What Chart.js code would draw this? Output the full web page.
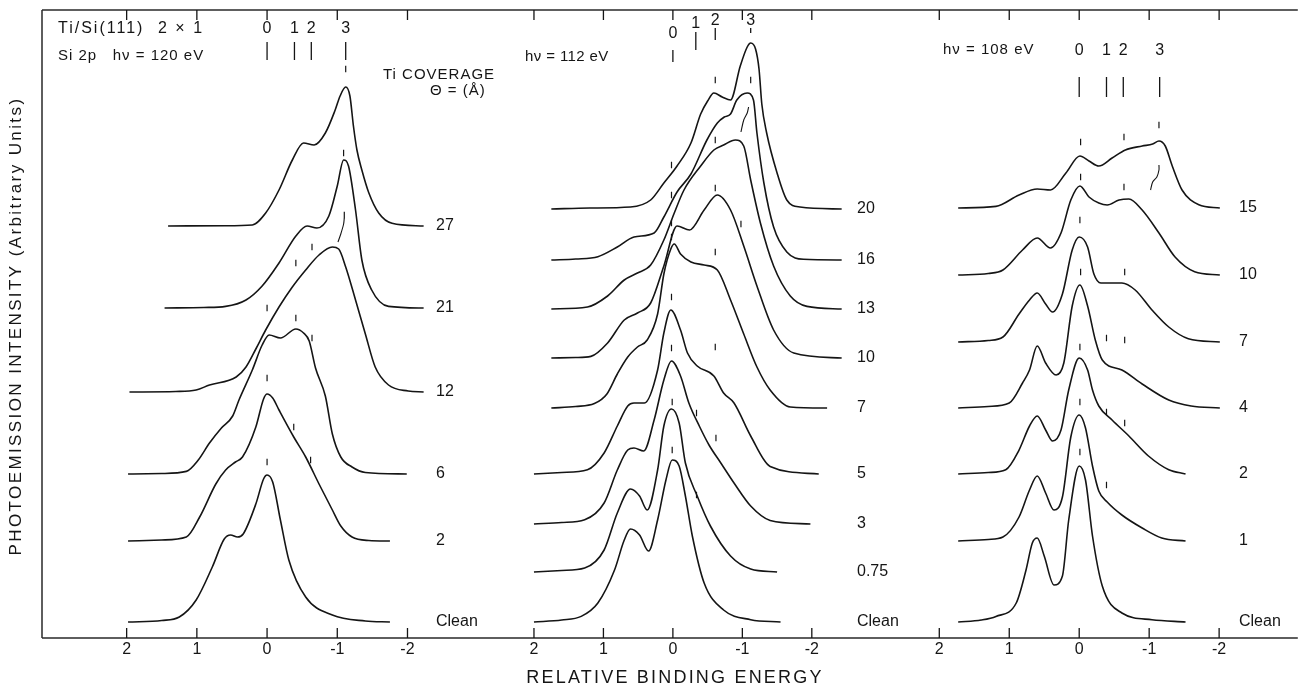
<!DOCTYPE html>
<html><head><meta charset="utf-8">
<script src="https://cdn.jsdelivr.net/npm/chart.js@4.4.1/dist/chart.umd.min.js"></script>
<style>html,body{margin:0;padding:0;background:#fff;overflow:hidden}</style>
</head><body>
<canvas id="c" width="1303" height="690"></canvas>
<script>
// ---------------- DATA ----------------
const tickValues = [2, 1, 0, -1, -2];
const tickLabels = ['2', '1', '0', '-1', '-2'];

// Panel 1 : Si 2p, hν = 120 eV  — points are [relative binding energy (eV), intensity above baseline]
const p1Labels  = ['Clean', '2', '6', '12', '21', '27'];
const p1Offsets = [16, 97, 164, 246, 330, 412];
const p1Clean = [[1.98,0],[1.5,1.5],[1.25,5],[1.01,22],[0.78,55],[0.61,83],[0.52,87],[0.42,85],[0.34,88],[0.16,118],[0.05,143],[0,147],[-0.08,140],[-0.19,102],[-0.31,62],[-0.55,25],[-0.93,7],[-1.4,1],[-1.75,0]];
const p1Cov2  = [[1.98,0],[1.5,1],[1.15,4],[0.96,24],[0.73,57],[0.59,71],[0.45,79],[0.35,84],[0.16,114],[0.05,142],[0,147],[-0.08,143],[-0.17,131],[-0.38,104],[-0.55,84],[-0.74,57],[-0.93,31],[-1.05,15],[-1.21,4],[-1.45,0.5],[-1.75,0]];
const p1Cov6  = [[1.98,0],[1.5,0.5],[1.15,2.6],[0.98,14],[0.82,31],[0.65,46],[0.49,58],[0.40,74],[0.21,104],[0.07,129],[-0.03,139],[-0.19,136],[-0.41,145],[-0.52,141],[-0.60,133],[-0.69,106],[-0.83,78],[-0.93,40],[-1.05,17],[-1.21,7],[-1.4,1.5],[-1.99,0]];
const p1Cov12 = [[1.96,0],[1.3,0.5],[1.01,2],[0.82,7],[0.44,15],[0.30,25],[0.16,43],[0.02,62],[-0.17,85],[-0.36,105],[-0.55,122],[-0.74,137],[-0.93,145],[-1.02,143],[-1.12,125],[-1.26,92],[-1.40,58],[-1.54,25],[-1.73,7],[-2.01,1],[-2.23,0]];
const p1Cov21 = [[1.46,0],[0.9,0.5],[0.59,1.6],[0.30,8],[0.07,22],[-0.17,45],[-0.41,72],[-0.57,82],[-0.71,80],[-0.88,92],[-1.00,122],[-1.09,148],[-1.16,142],[-1.26,98],[-1.35,48],[-1.49,18],[-1.73,1.6],[-2.23,0]];
const p1Cov27 = [[1.41,0],[0.6,0.3],[0.21,1],[0.02,13],[-0.17,36],[-0.36,66],[-0.52,83],[-0.67,81],[-0.83,93],[-0.97,116],[-1.04,130],[-1.12,139],[-1.18,130],[-1.23,100],[-1.28,76],[-1.35,56],[-1.45,33],[-1.59,13],[-1.78,2.7],[-2.23,0]];
const p1Curves = [p1Clean, p1Cov2, p1Cov6, p1Cov12, p1Cov21, p1Cov27];
const p1Components = [0, -0.39, -0.63, -1.12];
const p1CompNames  = ['0', '1', '2', '3'];
const p1Marks = [[0,176],[-0.38,211],[-0.62,178],[0,260],[0,330],[-0.41,320],[-0.64,300],[-0.41,375],[-0.64,391],[-1.09,485],[-1.10,423],[-1.12,569]];
const p1Link  = [[-1.01,396],[-1.05,404],[-1.09,414],[-1.10,420]];

// Panel 2 : hν = 112 eV
const p2Labels  = ['Clean', '0.75', '3', '5', '7', '10', '13', '16', '20'];
const p2Offsets = [16, 66, 114, 164, 230, 280, 329, 378, 429];
const p2Clean = [[2.0,0],[1.6,2],[1.32,5.6],[1.08,19],[0.84,52],[0.70,82],[0.61,93],[0.48,87],[0.35,71],[0.22,102],[0.10,142],[0.01,162],[-0.09,156],[-0.18,126],[-0.28,86],[-0.45,39],[-0.73,12],[-1.12,2.3],[-1.55,0]];
const p2Cov075 = [[2.0,0],[1.6,1.5],[1.27,4],[0.99,22],[0.80,59],[0.61,83],[0.48,76],[0.37,62],[0.22,102],[0.13,146],[0.02,163],[-0.09,149],[-0.18,109],[-0.35,76],[-0.54,46],[-0.83,16],[-1.12,3],[-1.5,0]];
const p2Cov3  = [[2.0,0],[1.6,1.5],[1.27,4.3],[0.99,21],[0.80,54],[0.65,74],[0.56,76],[0.42,73],[0.27,104],[0.13,144],[0.02,163],[-0.11,148],[-0.23,121],[-0.38,98],[-0.52,79],[-0.69,61],[-0.88,41],[-1.12,18],[-1.40,3.6],[-1.98,0]];
const p2Cov5  = [[2.0,0],[1.6,1.5],[1.23,4.3],[0.99,21],[0.80,48],[0.65,68],[0.56,71],[0.41,71],[0.22,104],[0.13,141],[0.03,164],[-0.11,144],[-0.21,121],[-0.35,108],[-0.59,98],[-0.73,81],[-0.88,71],[-1.12,38],[-1.40,7.6],[-2.10,0]];
const p2Cov7  = [[1.75,0],[1.4,1.5],[1.13,4.4],[0.95,14],[0.80,34],[0.65,51],[0.51,61],[0.37,68],[0.22,94],[0.13,134],[0.03,159],[-0.02,164],[-0.11,154],[-0.26,146],[-0.45,143],[-0.64,138],[-0.83,108],[-1.02,74],[-1.21,41],[-1.40,18],[-1.69,1],[-2.22,0]];
const p2Cov10 = [[1.75,0],[1.4,0.5],[1.18,1.6],[0.94,15],[0.70,38],[0.51,45],[0.32,55],[0.13,92],[-0.06,132],[-0.24,128],[-0.45,148],[-0.64,163],[-0.83,148],[-1.02,112],[-1.21,72],[-1.45,28],[-1.74,5],[-2.43,0]];
const p2Cov13 = [[1.75,0],[1.23,2],[0.94,13],[0.70,29],[0.51,36],[0.32,44],[0.13,69],[-0.02,96],[-0.16,119],[-0.40,143],[-0.59,159],[-0.73,164],[-0.90,169],[-1.02,163],[-1.12,129],[-1.26,86],[-1.45,43],[-1.69,13],[-1.93,2.6],[-2.43,0]];
const p2Cov16 = [[1.75,0],[1.4,1],[1.08,3.3],[0.80,13],[0.56,23],[0.27,27],[0.13,43],[-0.06,68],[-0.26,86],[-0.49,120],[-0.64,137],[-0.74,143],[-0.83,146],[-0.92,160],[-1.07,167],[-1.16,160],[-1.21,127],[-1.31,77],[-1.45,33],[-1.64,8],[-1.88,0.7],[-2.43,0]];
const p2Cov20 = [[1.75,0],[1.2,1],[0.61,2],[0.32,9],[0.13,26],[-0.06,43],[-0.26,66],[-0.40,95],[-0.50,108],[-0.59,116],[-0.71,112],[-0.83,109],[-0.97,143],[-1.07,162],[-1.12,166],[-1.19,160],[-1.24,140],[-1.28,105],[-1.35,76],[-1.50,36],[-1.64,9],[-1.83,2],[-2.43,0]];
const p2Curves = [p2Clean, p2Cov075, p2Cov3, p2Cov5, p2Cov7, p2Cov10, p2Cov13, p2Cov16, p2Cov20];
const p2Components = [0, -0.33, -0.61, -1.12];
const p2CompNames  = ['0', '1', '2', '3'];
const p2Marks = [[-0.61,558],[-1.12,558],[0.02,473],[-0.61,498],[0.02,443],[-0.61,450],[-0.98,414],[0.02,415],[0.02,401],[-0.61,386],[0.02,341],[0.02,290],[-0.61,291],[0.01,236],[-0.34,225],[-0.62,200],[0.01,188],[-0.34,143]];
const p2Link  = [[-0.98,506],[-1.02,518],[-1.07,525],[-1.09,531]];

// Panel 3 : hν = 108 eV
const p3Labels  = ['Clean', '1', '2', '4', '7', '10', '15'];
const p3Offsets = [16, 97, 164, 230, 296, 363, 430];
const p3Clean = [[1.73,0],[1.4,2],[1.19,5.6],[0.90,19],[0.76,52],[0.67,79],[0.60,84],[0.50,66],[0.36,37],[0.24,46],[0.15,102],[0.0,156],[-0.09,142],[-0.19,86],[-0.33,36],[-0.61,9],[-1.04,2.3],[-1.52,0]];
const p3Cov1  = [[1.73,0],[1.3,1.5],[1.09,4],[0.86,24],[0.71,51],[0.60,65],[0.48,48],[0.36,31],[0.24,44],[0.12,104],[0.0,126],[-0.09,113],[-0.19,75],[-0.28,50],[-0.40,39],[-0.61,26],[-0.90,13],[-1.18,3],[-1.52,0]];
const p3Cov2  = [[1.73,0],[1.3,1.5],[1.05,4.3],[0.86,24],[0.71,48],[0.60,58],[0.48,44],[0.38,33],[0.26,44],[0.15,84],[0.0,116],[-0.12,104],[-0.19,84],[-0.28,68],[-0.47,54],[-0.71,38],[-0.99,18],[-1.28,4.3],[-1.52,0]];
const p3Cov4  = [[1.73,0],[1.3,1.5],[1.00,5],[0.81,25],[0.71,38],[0.60,62],[0.48,45],[0.33,33],[0.22,45],[0.10,102],[-0.01,123],[-0.12,102],[-0.23,68],[-0.33,48],[-0.61,38],[-0.90,24],[-1.28,8],[-1.6,2],[-2.01,0]];
const p3Cov7  = [[1.73,0],[1.3,1.5],[1.09,5],[0.86,28],[0.71,42],[0.60,49],[0.48,38],[0.38,30],[0.24,48],[0.10,92],[0.0,105],[-0.12,95],[-0.21,68],[-0.31,59],[-0.61,59],[-0.80,52],[-1.04,32],[-1.28,15],[-1.56,3.3],[-2.01,0]];
const p3Cov10 = [[1.73,0],[1.3,1.5],[1.09,5],[0.81,25],[0.60,37],[0.41,27],[0.26,42],[0.12,75],[-0.01,89],[-0.14,78],[-0.28,72],[-0.40,70],[-0.57,75],[-0.71,76],[-0.90,65],[-1.14,42],[-1.37,18],[-1.65,3.3],[-2.01,0]];
const p3Cov15 = [[1.73,0],[1.19,1.6],[0.86,13],[0.60,19],[0.41,18],[0.19,35],[-0.01,52],[-0.14,47],[-0.28,42],[-0.47,50],[-0.66,58],[-0.90,62],[-1.05,64],[-1.14,67],[-1.23,62],[-1.33,42],[-1.47,18],[-1.71,3.3],[-2.01,0]];
const p3Curves = [p3Clean, p3Cov1, p3Cov2, p3Cov4, p3Cov7, p3Cov10, p3Cov15];
const p3Components = [0, -0.39, -0.63, -1.15];
const p3CompNames  = ['0', '1', '2', '3'];
const p3Marks = [[-0.02,496],[-0.64,501],[-1.14,513],[-0.02,461],[-0.64,451],[-0.01,418],[-0.02,366],[-0.65,366],[-0.01,291],[-0.39,300],[-0.65,298],[-0.01,236],[-0.39,226],[-0.65,215],[-0.01,186],[-0.39,153]];
const p3Link  = [[-1.02,448],[-1.05,456],[-1.11,461],[-1.14,468],[-1.14,473]];

// ---------------- LAYOUT ----------------
const FRAME = {left: 42, top: 10, right: 1303, bottom: 638};
const W = FRAME.right - FRAME.left;
const INK = '#151515';
const FONT = '"Liberation Sans", "DejaVu Sans", sans-serif';
const panels = [
  {axis:'x1', zero:268, ppe:70.5, labels:p1Labels, offsets:p1Offsets, curves:p1Curves, marks:p1Marks, link:p1Link,
   comps:p1Components, compNames:p1CompNames, compLabelY:[29,29,29,29], compBar:[[42,60],[42,60],[42,60],[42,60]], labelX:436},
  {axis:'x2', zero:675.5, ppe:69.75, labels:p2Labels, offsets:p2Offsets, curves:p2Curves, marks:p2Marks, link:p2Link,
   comps:p2Components, compNames:p2CompNames, compLabelY:[34,24,21,21], compBar:[[50,62],[32,50],[28,40],[28,33]], labelX:857},
  {axis:'x3', zero:1083.5, ppe:70.25, labels:p3Labels, offsets:p3Offsets, curves:p3Curves, marks:p3Marks, link:p3Link,
   comps:p3Components, compNames:p3CompNames, compLabelY:[51,51,51,51], compBar:[[77,97],[77,97],[77,97],[77,97]], labelX:1239}
];

const scales = {y: {type:'linear', display:false, min:0, max:FRAME.bottom - FRAME.top}};
panels.forEach(p => {
  const max = (p.zero - FRAME.left) / p.ppe;
  scales[p.axis] = {type:'linear', display:false, reverse:true, max:max, min:max - W / p.ppe};
});

const datasets = [];
panels.forEach(p => {
  p.curves.forEach((c, i) => {
    datasets.push({type:'line', xAxisID:p.axis, yAxisID:'y',
      data:c.map(([e, h]) => ({x:e, y:p.offsets[i] + h})),
      borderColor:INK, borderWidth:1.6, pointRadius:0, fill:false, cubicInterpolationMode:'monotone'});
  });
  datasets.push({type:'scatter', xAxisID:p.axis, yAxisID:'y',
    data:p.marks.map(([e, y]) => ({x:e, y:y})),
    pointStyle:'line', rotation:90, pointRadius:3.2, borderColor:INK, borderWidth:1.2, showLine:false});
  datasets.push({type:'line', xAxisID:p.axis, yAxisID:'y',
    data:p.link.map(([e, y]) => ({x:e, y:y})),
    borderColor:INK, borderWidth:1.1, pointRadius:0, fill:false, tension:0.3});
});

const deco = {
  id:'deco',
  afterDatasetsDraw(chart) {
    const ctx = chart.ctx, a = chart.chartArea, ys = chart.scales.y;
    ctx.save();
    ctx.strokeStyle = '#2a2a2a'; ctx.lineWidth = 1.5;
    ctx.beginPath();
    ctx.moveTo(a.left, a.top); ctx.lineTo(a.right, a.top);
    ctx.moveTo(a.left, a.top); ctx.lineTo(a.left, a.bottom);
    ctx.moveTo(a.left, a.bottom); ctx.lineTo(a.right, a.bottom);
    ctx.stroke();
    ctx.fillStyle = INK;
    panels.forEach(p => {
      const sx = chart.scales[p.axis];
      ctx.strokeStyle = INK; ctx.lineWidth = 1.3;
      ctx.font = '16px ' + FONT; ctx.textAlign = 'center'; ctx.textBaseline = 'middle';
      ctx.letterSpacing = '0px';
      tickValues.forEach((v, i) => {
        const px = sx.getPixelForValue(v);
        ctx.beginPath();
        ctx.moveTo(px, a.bottom); ctx.lineTo(px, a.bottom - 10);
        ctx.moveTo(px, a.top); ctx.lineTo(px, a.top + 10);
        ctx.stroke();
        ctx.fillText(tickLabels[i], px, a.bottom + 12);
      });
      // component markers on top
      ctx.font = '16px ' + FONT;
      p.comps.forEach((e, i) => {
        const px = sx.getPixelForValue(e);
        ctx.fillText(p.compNames[i], px, p.compLabelY[i]);
        ctx.beginPath(); ctx.moveTo(px, p.compBar[i][0]); ctx.lineTo(px, p.compBar[i][1]); ctx.stroke();
      });
      // curve labels
      ctx.textAlign = 'left'; ctx.font = '16px ' + FONT;
      p.labels.forEach((t, i) => ctx.fillText(t, p.labelX, ys.getPixelForValue(p.offsets[i])));
    });
    ctx.textAlign = 'left'; ctx.font = '16px ' + FONT;
    ctx.letterSpacing = '2px';
    ctx.fillText('Ti/Si(111)', 58, 29);
    ctx.fillText('2 \u00d7 1', 158, 29);
    ctx.font = '15px ' + FONT; ctx.letterSpacing = '1px';
    ctx.fillText('Si 2p   h\u03bd = 120 eV', 58, 56);
    ctx.fillText('h\u03bd = 108 eV', 943, 50);
    ctx.fillText('Ti COVERAGE', 383, 75);
    ctx.fillText('\u0398 = (\u00c5)', 430, 91);
    ctx.letterSpacing = '0.4px';
    ctx.fillText('h\u03bd = 112 eV', 525, 57);
    ctx.textAlign = 'center'; ctx.font = '18px ' + FONT; ctx.letterSpacing = '2.2px';
    ctx.fillText('RELATIVE BINDING ENERGY', 675, 678);
    ctx.save();
    ctx.translate(16, 326); ctx.rotate(-Math.PI / 2);
    ctx.font = '17px ' + FONT; ctx.letterSpacing = '2.4px';
    ctx.fillText('PHOTOEMISSION INTENSITY (Arbitrary Units)', 0, 0);
    ctx.restore();
    ctx.restore();
  }
};

new Chart(document.getElementById('c'), {
  type:'line',
  data:{datasets:datasets},
  options:{
    responsive:false, animation:false, devicePixelRatio:1,
    layout:{padding:{left:FRAME.left, top:FRAME.top, right:1303 - FRAME.right, bottom:690 - FRAME.bottom}},
    plugins:{legend:{display:false}, tooltip:{enabled:false}},
    scales:scales
  },
  plugins:[deco]
});
</script>
</body></html>
